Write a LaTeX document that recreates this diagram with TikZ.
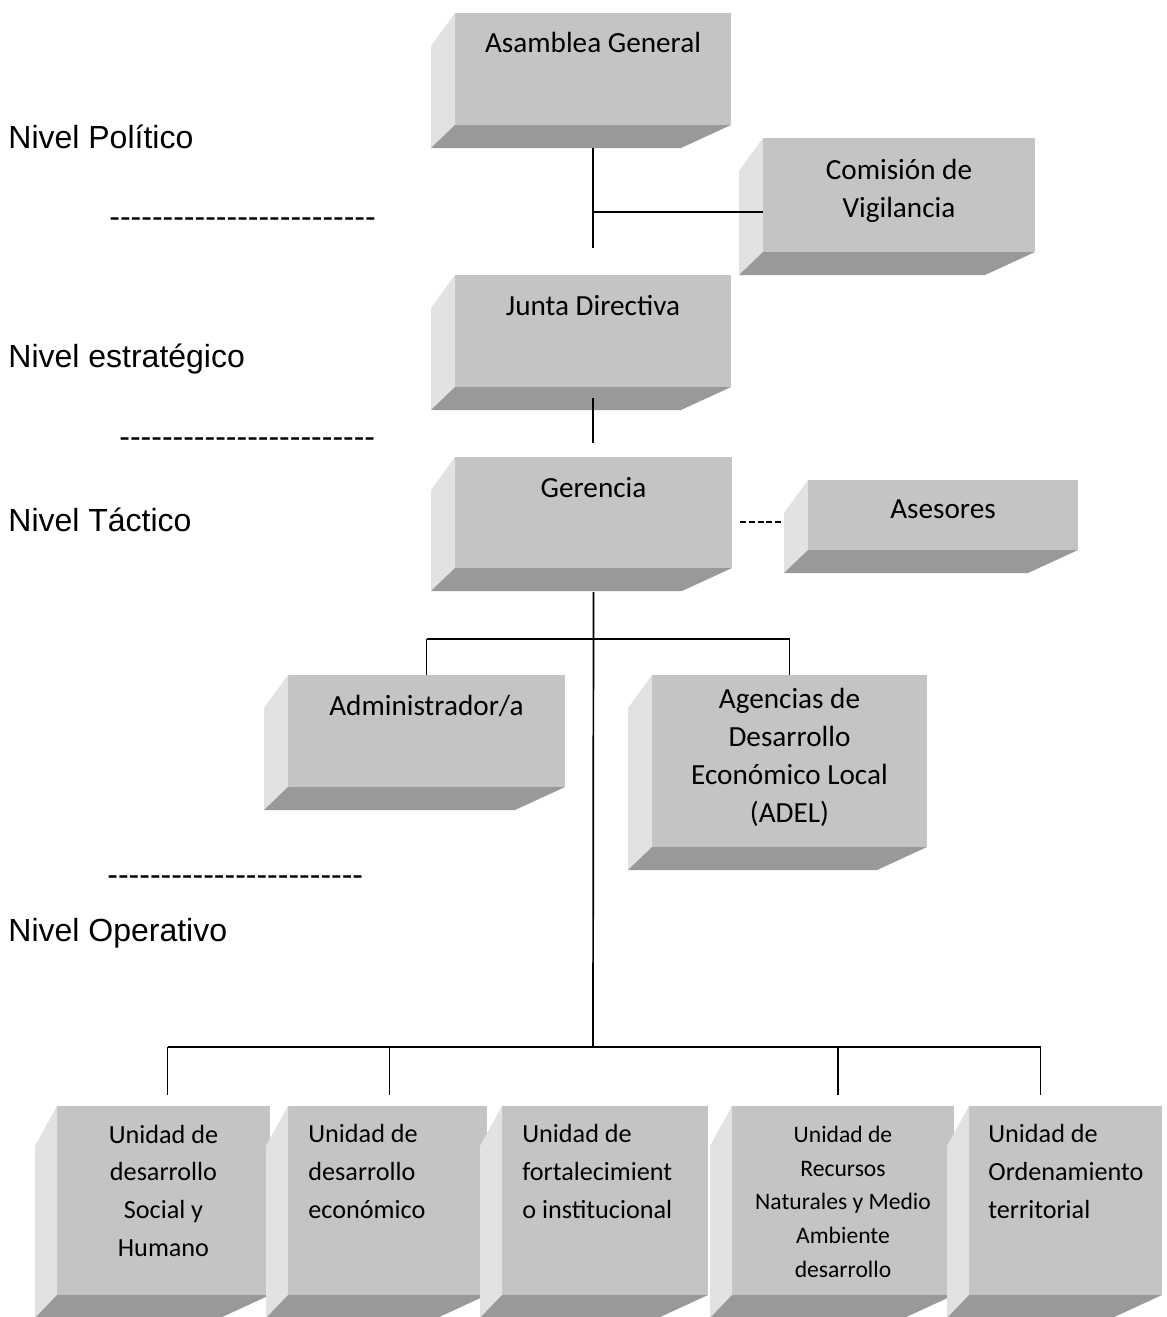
\documentclass[tikz,border=0pt]{standalone}
\usepackage{fontspec}
\setmainfont{Carlito}
\newfontfamily\levelfont{Liberation Sans}

\definecolor{frontgray}{RGB}{196,196,196}
\definecolor{sidegray}{RGB}{226,226,226}
\definecolor{basegray}{RGB}{153,153,153}

\tikzset{
	front/.style={fill=frontgray, inner sep=0pt, outer sep=0pt, anchor=north west},
	boxtext/.style={anchor=base, align=center, inner sep=0pt, font=\fontsize{14.6}{19}\selectfont},
	unittext/.style={anchor=base, align=center, inner sep=0pt, font=\fontsize{13.1}{18.8}\selectfont},
	level/.style={anchor=base west, inner sep=0pt, font=\levelfont\fontsize{16}{19}\selectfont},
	link/.style={line width=0.85pt},
}

\begin{document}
\begin{tikzpicture}[x=0.5pt, y=-0.5pt]

	\clip (0,0) rectangle (1167,1317);
	\fill[white] (0,0) rectangle (1167,1317);

	% Front faces of the boxes
	\node[front, minimum width=138pt, minimum height=56pt] (asamblea) at (455,13) {};
	\node[front, minimum width=136pt, minimum height=57pt] (comision) at (763,138) {};
	\node[front, minimum width=138pt, minimum height=56pt] (junta) at (455,275) {};
	\node[front, minimum width=138.5pt, minimum height=55.5pt] (gerencia) at (455,457) {};
	\node[front, minimum width=135pt, minimum height=35pt] (asesores) at (808,480) {};
	\node[front, minimum width=138.5pt, minimum height=56pt] (admin) at (288,675) {};
	\node[front, minimum width=137.5pt, minimum height=86pt] (adel) at (652,675) {};
	\node[front, minimum width=106.5pt, minimum height=94.5pt] (u1) at (57,1106) {};
	\node[front, minimum width=99.5pt, minimum height=94.5pt] (u2) at (288,1106) {};
	\node[front, minimum width=103pt, minimum height=94.5pt] (u3) at (502,1106) {};
	\node[front, minimum width=111pt, minimum height=94.5pt] (u4) at (732,1106) {};
	\node[front, minimum width=96.5pt, minimum height=94.5pt] (u5) at (969,1106) {};

	% Side and bottom faces
	\foreach \b in {asamblea,comision,junta,gerencia,asesores,admin,adel}{
		\fill[sidegray] (\b.north west) -- ++(-24,33) -- ([shift={(-24,23)}]\b.south west) -- (\b.south west) -- cycle;
		\fill[basegray] (\b.south west) -- (\b.south east) -- ++(-50,23) -- ([shift={(-24,23)}]\b.south west) -- cycle;
	}
	\foreach \b in {u1,u2,u3,u4,u5}{
		\fill[sidegray] (\b.north west) -- ++(-22,40) -- ([shift={(-22,23)}]\b.south west) -- (\b.south west) -- cycle;
		\fill[basegray] (\b.south west) -- (\b.south east) -- ++(-50,23) -- ([shift={(-22,23)}]\b.south west) -- cycle;
	}

	% Box texts (base = last line)
	\node[boxtext] (asamblea-t) at ([shift={(0,40)}]asamblea.north) {Asamblea General};
	\node[boxtext] (comision-t) at ([shift={(0,79)}]comision.north) {Comisión de\\Vigilancia};
	\node[boxtext] (junta-t) at ([shift={(0,40)}]junta.north) {Junta Directiva};
	\node[boxtext] (gerencia-t) at ([shift={(0,40)}]gerencia.north) {Gerencia};
	\node[boxtext] (asesores-t) at ([shift={(0,38)}]asesores.north) {Asesores};
	\node[boxtext] (admin-t) at ([shift={(0,40)}]admin.north) {Administrador/a};
	\node[boxtext] (adel-t) at ([shift={(0,147)}]adel.north) {Agencias de\\Desarrollo\\Económico Local\\(ADEL)};
	\node[unittext] (u1-t) at ([shift={(0,150)}]u1.north) {Unidad de\\desarrollo\\Social y\\Humano};
	\node[unittext, anchor=base west, align=left] (u2-t) at ([shift={(20,112)}]u2.north west) {Unidad de\\desarrollo\\económico};
	\node[unittext, anchor=base west, align=left] (u3-t) at ([shift={(20,112)}]u3.north west) {Unidad de\\fortalecimient\\o institucional};
	\node[unittext, font=\fontsize{11.8}{16.8}\selectfont] (u4-t) at ([shift={(0,171)}]u4.north) {Unidad de\\Recursos\\Naturales y Medio\\Ambiente\\desarrollo};
	\node[unittext, anchor=base west, align=left] (u5-t) at ([shift={(19,112)}]u5.north west) {Unidad de\\Ordenamiento\\territorial};

	% Levels
	\node[level] (politico) at (8,148) {Nivel Político};
	\node[level] (sep1) at (109,227) {\foreach \i in {1,...,25}{-}};
	\node[level] (estrategico) at (8,367) {Nivel estratégico};
	\node[level] (sep2) at (119,447) {\foreach \i in {1,...,24}{-}};
	\node[level] (tactico) at (8,531) {Nivel Táctico};
	\node[level] (sep3) at (107,885) {\foreach \i in {1,...,24}{-}};
	\node[level] (operativo) at (8,941) {Nivel Operativo};

	% Connectors
	\coordinate (polend) at (593,248);
	\coordinate (vigil) at (593,212);
	\coordinate (tacbus) at (593,639);
	\coordinate (opbus) at (593,1047);
	\draw[link] ([shift={(0,23)}]asamblea.south) -- (polend);
	\draw[link] (vigil) -- (vigil -| comision.west);
	\draw[link] ([shift={(0,11)}]junta.south) -- ++(0,45);
	\draw[line width=1.3pt, dash pattern=on 3pt off 1.4pt] ([shift={(8,9.5)}]gerencia.east) -- ([shift={(-25,7)}]asesores.west);
	\draw[link] ([shift={(0,24)}]gerencia.south) -- (opbus);
	\draw[link] (admin.north |- tacbus) -- (adel.north |- tacbus);
	\draw[link] (admin.north |- tacbus) -- (admin.north);
	\draw[link] (adel.north |- tacbus) -- (adel.north);
	\draw[link] ([shift={(4,-59)}]u1.north) -- ([shift={(-25,-59)}]u5.north);
	\foreach \u/\dx in {u1/4, u2/2, u4/-5, u5/-25}
		\draw[link] ([shift={(\dx,-59)}]\u.north) -- ++(0,48);

\end{tikzpicture}
\end{document}
